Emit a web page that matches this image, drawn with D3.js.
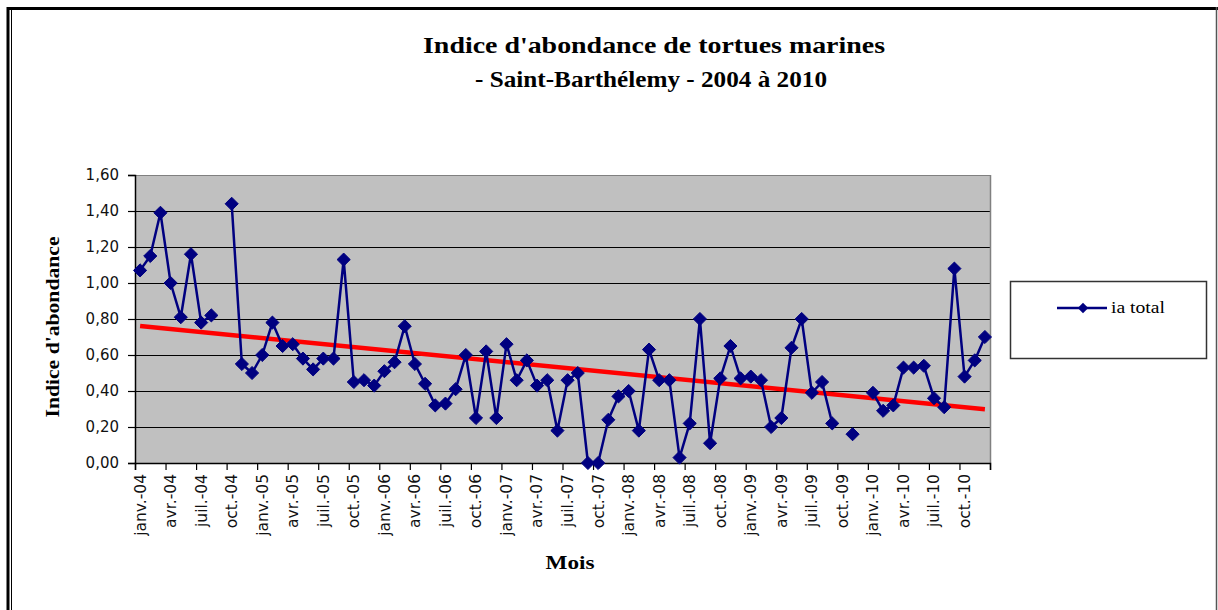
<!DOCTYPE html>
<html><head><meta charset="utf-8">
<script src="https://cdn.jsdelivr.net/npm/d3@7"></script>
<style>body{margin:0;background:#fff}svg{display:block}</style>
</head><body>
<svg id="c" width="1218" height="610"></svg>
<script>
// ---- data ----
const monthNames = ["janv.","févr.","mars","avr.","mai","juin","juil.","août","sept.","oct.","nov.","déc."];
const years = ["04","05","06","07","08","09","10"];
const categories = [];
years.forEach(y => monthNames.forEach(m => categories.push(m + "-" + y)));
const iaTotal = [
  1.07,1.15,1.39,1.00,0.81,1.16,0.78,0.82,null,1.44,0.55,0.50,
  0.60,0.78,0.65,0.66,0.58,0.52,0.58,0.58,1.13,0.45,0.46,0.43,
  0.51,0.56,0.76,0.55,0.44,0.32,0.33,0.41,0.60,0.25,0.62,0.25,
  0.66,0.46,0.57,0.43,0.46,0.18,0.46,0.50,0.00,0.00,0.24,0.37,
  0.40,0.18,0.63,0.46,0.46,0.03,0.22,0.80,0.11,0.47,0.65,0.47,
  0.48,0.46,0.20,0.25,0.64,0.80,0.39,0.45,0.22,null,0.16,null,
  0.39,0.29,0.32,0.53,0.53,0.54,0.36,0.31,1.08,0.48,0.57,0.70
];
const yTicks = [0,0.2,0.4,0.6,0.8,1.0,1.2,1.4,1.6];
const titleLines = ["Indice d'abondance de tortues marines","- Saint-Barthélemy - 2004 à 2010"];
const seriesName = "ia total";

// ---- layout ----
const svg = d3.select("#c");
const L = 135, R = 990, T = 175, B = 463;
const x = d3.scaleBand().domain(d3.range(categories.length)).range([L, R]).padding(0);
const xb = d3.scaleLinear().domain([0, categories.length]).range([L, R]);
const y = d3.scaleLinear().domain([0, 1.6]).range([B, T]);
const cx = i => x(i) + x.bandwidth() / 2;

// outer border
svg.append("line").attr("x1",8).attr("x2",1218).attr("y1",8.5).attr("y2",8.5).attr("stroke","#000").attr("stroke-width",3);
svg.append("line").attr("x1",8).attr("x2",8).attr("y1",7).attr("y2",610).attr("stroke","#000").attr("stroke-width",3);
svg.append("line").attr("x1",11.5).attr("x2",11.5).attr("y1",10).attr("y2",610).attr("stroke","#000").attr("stroke-width",1);
svg.append("line").attr("x1",1216.5).attr("x2",1216.5).attr("y1",7).attr("y2",610).attr("stroke","#555").attr("stroke-width",1.5);

// plot background
svg.append("rect").attr("x",L).attr("y",T).attr("width",R-L).attr("height",B-T).attr("fill","#c0c0c0");
// gridlines
svg.append("g").selectAll("line").data(yTicks.slice(1)).join("line")
  .attr("x1",L).attr("x2",R).attr("y1",d=>Math.round(y(d))+0.5).attr("y2",d=>Math.round(y(d))+0.5)
  .attr("stroke", d => d === 1.6 ? "#808080" : "#000").attr("stroke-width",1.2);
// right border
svg.append("line").attr("x1",R+0.5).attr("x2",R+0.5).attr("y1",T).attr("y2",B).attr("stroke","#808080").attr("stroke-width",1.5);

// y axis
const yAxis = svg.append("g").attr("transform",`translate(${L},0)`)
  .call(d3.axisLeft(y).tickValues(yTicks).tickSize(7).tickPadding(9)
    .tickFormat(d => d3.format(".2f")(d).replace(".", ",")));
yAxis.select(".domain").attr("stroke","#000").attr("stroke-width",1.5);
yAxis.selectAll(".tick line").attr("stroke","#000").attr("stroke-width",1.2);
yAxis.selectAll(".tick text").attr("font-family","DejaVu Sans").attr("font-size",15).attr("fill","#111");

// x axis: ticks at category boundaries
const tickIdx = d3.range(0, categories.length + 1, 3);
const xAxisTicks = svg.append("g").attr("transform",`translate(0,${B})`)
  .call(d3.axisBottom(xb).tickValues(tickIdx).tickSize(7).tickFormat(""));
xAxisTicks.select(".domain").attr("stroke","#000").attr("stroke-width",1.5);
xAxisTicks.selectAll(".tick line").attr("stroke","#000").attr("stroke-width",1.2);
// labels at category centers
const labIdx = d3.range(0, categories.length, 3);
const xAxisLab = svg.append("g").attr("transform",`translate(0,${B})`)
  .call(d3.axisBottom(x).tickValues(labIdx).tickSize(0).tickFormat(i => categories[i]));
xAxisLab.select(".domain").remove();
xAxisLab.selectAll(".tick text")
  .attr("font-family","DejaVu Sans").attr("font-size",15.5).attr("fill","#111")
  .attr("transform","rotate(-90)").attr("text-anchor","end")
  .attr("x",-11).attr("y",0).attr("dy","0.35em");

// trend line (least squares on category index)
const pts = iaTotal.map((v,i)=>[i,v]).filter(d=>d[1]!==null);
const mx = d3.mean(pts,d=>d[0]), my = d3.mean(pts,d=>d[1]);
const slope = d3.sum(pts,d=>(d[0]-mx)*(d[1]-my)) / d3.sum(pts,d=>(d[0]-mx)**2);
const icpt = my - slope*mx;
const n = categories.length;
svg.append("line")
  .attr("x1",cx(0)).attr("y1",y(icpt))
  .attr("x2",cx(n-1)).attr("y2",y(icpt+slope*(n-1)))
  .attr("stroke","#ff0000").attr("stroke-width",4.5).attr("stroke-linecap","butt");

// series line
const line = d3.line().defined(d=>d!==null).x((d,i)=>cx(i)).y(d=>y(d));
svg.append("path").datum(iaTotal).attr("d",line)
  .attr("fill","none").attr("stroke","#000080").attr("stroke-width",2.5).attr("stroke-linejoin","round");
const diamond = d3.symbol().type(d3.symbolDiamond2).size(110);
svg.append("g").selectAll("path").data(iaTotal.map((v,i)=>({v,i})).filter(d=>d.v!==null)).join("path")
  .attr("d",diamond).attr("transform",d=>`translate(${cx(d.i)},${y(d.v)})`)
  .attr("fill","#000080").attr("stroke","#000080").attr("stroke-width",1);

// title
const tl = [{t:titleLines[0],y:53,w:462,c:654},{t:titleLines[1],y:87,w:352,c:651}];
svg.append("g").selectAll("text").data(tl).join("text")
  .attr("x",d=>d.c).attr("y",d=>d.y).attr("text-anchor","middle")
  .attr("font-family","Liberation Serif").attr("font-weight","bold").attr("font-size",24)
  .attr("textLength",d=>d.w).attr("lengthAdjust","spacingAndGlyphs")
  .attr("fill","#000").text(d=>d.t);

// axis titles
svg.append("text").attr("transform","translate(59,327) rotate(-90)").attr("text-anchor","middle")
  .attr("font-family","Liberation Serif").attr("font-weight","bold").attr("font-size",19)
  .attr("textLength",181).attr("lengthAdjust","spacingAndGlyphs").text("Indice d'abondance");
svg.append("text").attr("x",570).attr("y",569).attr("text-anchor","middle")
  .attr("font-family","Liberation Serif").attr("font-weight","bold").attr("font-size",19)
  .attr("textLength",49).attr("lengthAdjust","spacingAndGlyphs").text("Mois");

// legend
const lg = svg.append("g");
lg.append("rect").attr("x",1010.5).attr("y",281.5).attr("width",196).attr("height",77)
  .attr("fill","#fff").attr("stroke","#333").attr("stroke-width",1.5);
lg.append("line").attr("x1",1057).attr("x2",1107).attr("y1",308).attr("y2",308)
  .attr("stroke","#000080").attr("stroke-width",2.5);
lg.append("path").attr("d",d3.symbol().type(d3.symbolDiamond2).size(70)).attr("transform","translate(1083,308)")
  .attr("fill","#000080");
lg.append("text").attr("x",1111).attr("y",313).attr("font-family","Liberation Serif").attr("font-size",16)
  .attr("textLength",54).attr("lengthAdjust","spacingAndGlyphs").text(seriesName);
</script>
</body></html>
